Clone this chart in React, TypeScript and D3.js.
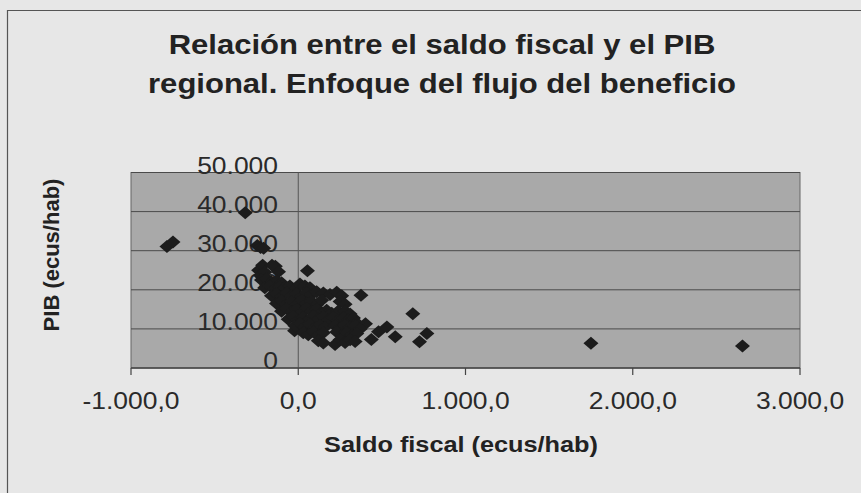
import React from "react";
import * as d3 from "d3";

const TITLE_LINES = [
  "Relación entre el saldo fiscal y el PIB",
  "regional. Enfoque del flujo del beneficio",
];
const X_LABEL = "Saldo fiscal (ecus/hab)";
const Y_LABEL = "PIB (ecus/hab)";
const X_TICKS = [-1000, 0, 1000, 2000, 3000];
const Y_TICKS = [0, 10000, 20000, 30000, 40000, 50000];

// Saldo fiscal (ecus/hab) per region
const saldoFiscal = [
  -785, -749, -317, -245, -225, -207, 55, -22, 375, 402, 437, 480, 530, 580, 685, 725, 769, 1750, 2656,
  -237, -227, -213, -137, -157, -118, -200,
  -220, -190, -160, -130, -100,
  -200, -170, -140, -110, -80, -50, -20, 10, 40, 70,
  -160, -130, -100, -70, -40, -10, 20, 50, 80, 110, 150, 190, 230, 260,
  -130, -100, -70, -40, -10, 20, 50, 80, 110, 140, 250, 280,
  -100, -70, -40, -10, 20, 50, 80, 110, 140, 170, 200, 240, 280, 310,
  -60, -30, 0, 30, 60, 90, 120, 150, 180, 210, 240, 270, 300, 330, 350,
  -20, 10, 40, 70, 100, 130, 160, 220, 250, 280, 310, 340, 370,
  30, 60, 90, 120, 150, 230, 260, 290, 320, 350,
  120, 150, 220, 250, 280, 310, 340,
];
// PIB regional (ecus/hab) per region
const pibRegional = [
  31100, 32200, 39700, 31300, 30800, 30600, 24900, 9500, 18600, 11300, 7300, 9300, 10500, 8000, 13900, 6700, 8800, 6300, 5600,
  25000, 23700, 26300, 26000, 26300, 24600, 24500,
  22500, 22800, 22000, 22300, 21800,
  20500, 21000, 20200, 20800, 20500, 21000, 20000, 21500, 21000, 20500,
  18500, 19000, 18200, 19200, 18500, 19000, 18300, 19300, 18800, 19500, 19200, 18800, 19400, 18500,
  16500, 17200, 16300, 17000, 16200, 17300, 16500, 17000, 16200, 17300, 17000, 16300,
  14500, 15200, 14300, 15000, 14200, 15300, 14500, 15000, 14200, 14800, 14000, 14600, 14500, 13800,
  12500, 13200, 12300, 13000, 12200, 13300, 12500, 13100, 12300, 13000, 12200, 12800, 12300, 12800, 11500,
  10800, 11400, 10500, 11200, 10300, 11000, 10500, 10800, 10200, 11000, 10400, 10800, 10000,
  9000, 8500, 9300, 8300, 9000, 9200, 8300, 9000, 8400, 8800,
  7000, 6400, 6000, 7200, 6500, 7200, 6800,
];

const W = 861;
const H = 493;
const SX = 1.15;
const FONT = "'Liberation Sans', Arial, sans-serif";

const locale = d3.formatLocale({
  decimal: ",",
  thousands: ".",
  grouping: [3],
  currency: ["", " €"],
  minus: "-",
});
const fmtX = locale.format(",.1f");
const fmtY = locale.format(",d");

export default function App() {
  const x = d3.scaleLinear().domain([-1000, 3000]).range([131, 800]);
  const y = d3.scaleLinear().domain([0, 50000]).range([368, 172.5]);
  const [x0, x1] = x.range();
  const [yb, yt] = y.range();
  const rx = 7.5;
  const ry = 6.5;

  const points = saldoFiscal.map((s, i) => ({ s, p: pibRegional[i] }));

  return (
    <div style={{ position: "absolute", left: 0, top: 0 }}>
      <svg width={W} height={H} style={{ display: "block" }}>
        <rect x={0} y={0} width={W} height={H} fill="#e7e7e7" />
        <path d={`M${W},10.5H7.5V${H}`} fill="none" stroke="#555" strokeWidth={1.2} />
        {TITLE_LINES.map((t, i) => (
          <text
            key={i}
            transform={`translate(442,${53.5 + i * 39.5}) scale(${SX},1)`}
            textAnchor="middle"
            fontFamily={FONT}
            fontWeight="bold"
            fontSize={27}
            fill="#222"
          >
            {t}
          </text>
        ))}
        {/* plot area */}
        <rect x={x0} y={yt} width={x1 - x0} height={yb - yt} fill="#a9a9a9" stroke="#666" strokeWidth={1} />
        {Y_TICKS.map((t) => (
          <line key={t} x1={x0} x2={x1} y1={y(t)} y2={y(t)} stroke="#4a4a4a" strokeWidth={1} />
        ))}
        {/* y axis at x = 0 */}
        <line x1={x(0)} x2={x(0)} y1={yt} y2={yb} stroke="#555" strokeWidth={1} />
        {/* x axis */}
        <line x1={x0} x2={x1} y1={yb} y2={yb} stroke="#444" strokeWidth={1.2} />
        {X_TICKS.map((t) => (
          <line key={t} x1={x(t)} x2={x(t)} y1={yb} y2={yb + 7} stroke="#444" strokeWidth={1.2} />
        ))}
        {Y_TICKS.map((t) => (
          <text
            key={t}
            transform={`translate(278,${y(t) + 1}) scale(${SX},1)`}
            textAnchor="end"
            fontFamily={FONT}
            fontSize={23}
            fill="#2a2a2a"
          >
            {fmtY(t)}
          </text>
        ))}
        {points.map((d, i) => {
          const cx = x(d.s);
          const cy = y(d.p);
          return (
            <path
              key={i}
              d={`M${cx},${cy - ry}L${cx + rx},${cy}L${cx},${cy + ry}L${cx - rx},${cy}Z`}
              fill="#1c1c1c"
            />
          );
        })}
        {X_TICKS.map((t) => (
          <text
            key={t}
            transform={`translate(${x(t)},408.5) scale(${SX},1)`}
            textAnchor="middle"
            fontFamily={FONT}
            fontSize={23}
            fill="#2a2a2a"
          >
            {fmtX(t)}
          </text>
        ))}
        <text
          transform={`translate(461,451.5) scale(${SX},1)`}
          textAnchor="middle"
          fontFamily={FONT}
          fontWeight="bold"
          fontSize={22}
          fill="#222"
        >
          {X_LABEL}
        </text>
        <text
          transform={`translate(59,255) rotate(-90)`}
          textAnchor="middle"
          fontFamily={FONT}
          fontWeight="bold"
          fontSize={22}
          fill="#222"
        >
          {Y_LABEL}
        </text>
      </svg>
    </div>
  );
}
